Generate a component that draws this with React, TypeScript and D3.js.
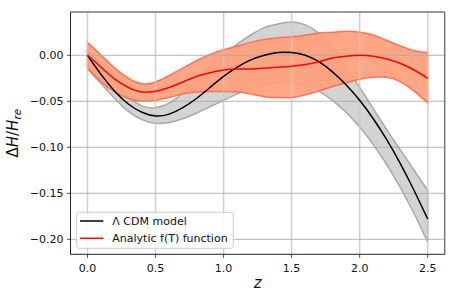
import React from "react";
import * as d3 from "d3";

const zs = [0, 0.1, 0.2, 0.3, 0.4, 0.5, 0.6, 0.7, 0.8, 0.9, 1.0, 1.1, 1.2, 1.3, 1.4, 1.5, 1.6, 1.7, 1.8, 1.9, 2.0, 2.1, 2.2, 2.3, 2.4, 2.5];
const lcdm = [0.0, -0.021, -0.039, -0.053, -0.062, -0.066, -0.064, -0.057, -0.047, -0.035, -0.023, -0.013, -0.005, 0.0, 0.003, 0.003, 0.0, -0.007, -0.018, -0.032, -0.049, -0.069, -0.092, -0.118, -0.147, -0.178];
const lcdmHi = [0.004, -0.012, -0.03, -0.045, -0.055, -0.057, -0.052, -0.041, -0.027, -0.012, 0.0, 0.012, 0.022, 0.03, 0.034, 0.036, 0.033, 0.024, 0.009, -0.012, -0.035, -0.058, -0.081, -0.103, -0.125, -0.147];
const lcdmLo = [-0.015, -0.031, -0.047, -0.061, -0.07, -0.074, -0.073, -0.069, -0.063, -0.056, -0.049, -0.042, -0.036, -0.032, -0.03, -0.03, -0.033, -0.039, -0.049, -0.062, -0.078, -0.097, -0.119, -0.144, -0.172, -0.203];
const fT = [0.0, -0.013, -0.026, -0.035, -0.04, -0.039, -0.035, -0.029, -0.023, -0.019, -0.016, -0.015, -0.015, -0.014, -0.013, -0.012, -0.01, -0.007, -0.003, -0.001, 0.0, -0.001, -0.004, -0.009, -0.016, -0.025];
const fTHi = [0.014, 0.0, -0.014, -0.025, -0.031, -0.029, -0.022, -0.014, -0.006, 0.001, 0.006, 0.01, 0.014, 0.017, 0.019, 0.02, 0.022, 0.024, 0.025, 0.026, 0.025, 0.022, 0.016, 0.01, 0.005, 0.003];
const fTLo = [-0.014, -0.029, -0.04, -0.047, -0.05, -0.049, -0.046, -0.042, -0.04, -0.0395, -0.0395, -0.04, -0.042, -0.045, -0.046, -0.046, -0.043, -0.039, -0.034, -0.03, -0.026, -0.024, -0.024, -0.029, -0.039, -0.052];

const xTicks = [0, 0.5, 1.0, 1.5, 2.0, 2.5];
const xTickLabels = ["0.0", "0.5", "1.0", "1.5", "2.0", "2.5"];
const yTicks = [0, -0.05, -0.1, -0.15, -0.2];
const yTickLabels = ["0.00", "\u22120.05", "\u22120.10", "\u22120.15", "\u22120.20"];
const legendLabels = ["\u039B CDM model", "Analytic f(T) function"];

const W = 457;
const H = 302;
const L = 70.5, R = 444.7, T = 12, B = 254.3;

export default function App() {
  const x = d3.scaleLinear().domain([-0.125, 2.625]).range([L, R]);
  const y = d3.scaleLinear().domain([-0.2163, 0.047]).range([B, T]);
  const idx = zs.map((_, i) => i);
  const curve = d3.curveNatural;
  const band = (lo: number[], hi: number[]) =>
    d3.area<number>().x((i) => x(zs[i])).y0((i) => y(lo[i])).y1((i) => y(hi[i])).curve(curve)(idx) || "";
  const line = (v: number[]) =>
    d3.line<number>().x((i) => x(zs[i])).y((i) => y(v[i])).curve(curve)(idx) || "";
  const font = "DejaVu Sans, sans-serif";
  return (
    <svg width={W} height={H} style={{ position: "absolute", left: 0, top: 0, background: "#fff" }} xmlns="http://www.w3.org/2000/svg">
      <defs>
        <clipPath id="plot">
          <rect x={L} y={T} width={R - L} height={B - T} />
        </clipPath>
      </defs>
      <rect x={0} y={0} width={W} height={H} fill="#fff" />
      <g clipPath="url(#plot)">
        <path d={band(lcdmLo, lcdmHi)} fill="#d3d3d3" stroke="#a9a9a9" strokeWidth={1.5} />
        <path d={band(fTLo, fTHi)} fill="#ffa07a" fillOpacity={0.92} stroke="#ff6a50" strokeOpacity={0.9} strokeWidth={1.5} />
        {xTicks.map((t, i) => (
          <line key={"gx" + i} x1={x(t)} x2={x(t)} y1={T} y2={B} stroke="#c8c8c8" strokeOpacity={0.85} strokeWidth={1.5} />
        ))}
        {yTicks.map((t, i) => (
          <line key={"gy" + i} x1={L} x2={R} y1={y(t)} y2={y(t)} stroke="#a8a8a8" strokeOpacity={0.85} strokeWidth={1} />
        ))}
        <path d={line(lcdm)} fill="none" stroke="#000" strokeWidth={1.5} />
        <path d={line(fT)} fill="none" stroke="#ff0000" strokeWidth={1.5} />
      </g>
      <line x1={L} x2={R} y1={T} y2={T} stroke="#777" strokeWidth={1.5} />
      <line x1={R} x2={R} y1={T} y2={B} stroke="#777" strokeWidth={1.5} />
      <line x1={L} x2={L} y1={T} y2={B} stroke="#222" strokeWidth={1} />
      <line x1={L} x2={R} y1={B} y2={B} stroke="#222" strokeWidth={1} />
      {xTicks.map((t, i) => (
        <g key={"xt" + i}>
          <line x1={x(t)} x2={x(t)} y1={B} y2={B + 3.5} stroke="#222" strokeWidth={0.8} />
          <text x={x(t)} y={271.5} fontFamily={font} fontSize={11} textAnchor="middle" fill="#111">{xTickLabels[i]}</text>
        </g>
      ))}
      {yTicks.map((t, i) => (
        <g key={"yt" + i}>
          <line x1={L - 3.5} x2={L} y1={y(t)} y2={y(t)} stroke="#222" strokeWidth={0.8} />
          <text x={63.5} y={y(t)} dy="0.36em" fontFamily={font} fontSize={11} textAnchor="end" fill="#111">{yTickLabels[i]}</text>
        </g>
      ))}
      <text x={(L + R) / 2} y={288} fontFamily={font} fontSize={15} fontStyle="italic" textAnchor="middle" fill="#111">z</text>
      <text transform={`translate(18,${(T + B) / 2}) rotate(-90)`} fontFamily={font} fontSize={15} textAnchor="middle" fill="#111">
        <tspan>{"\u0394"}</tspan>
        <tspan fontStyle="italic">H</tspan>
        <tspan>/</tspan>
        <tspan fontStyle="italic">H</tspan>
        <tspan fontStyle="italic" fontSize={10.5} dy={3}>re</tspan>
      </text>
      <rect x={76.7} y={212.3} width={156.6} height={36} rx={2.5} fill="#fff" fillOpacity={0.8} stroke="#cccccc" strokeWidth={1} />
      <line x1={80} x2={103.3} y1={221} y2={221} stroke="#000" strokeWidth={1.5} />
      <line x1={80} x2={103.3} y1={238.3} y2={238.3} stroke="#ff0000" strokeWidth={1.5} />
      <text x={112.3} y={221} dy="0.36em" fontFamily={font} fontSize={11} fill="#111">{legendLabels[0]}</text>
      <text x={112.3} y={238.3} dy="0.36em" fontFamily={font} fontSize={11} fill="#111">{legendLabels[1]}</text>
    </svg>
  );
}
